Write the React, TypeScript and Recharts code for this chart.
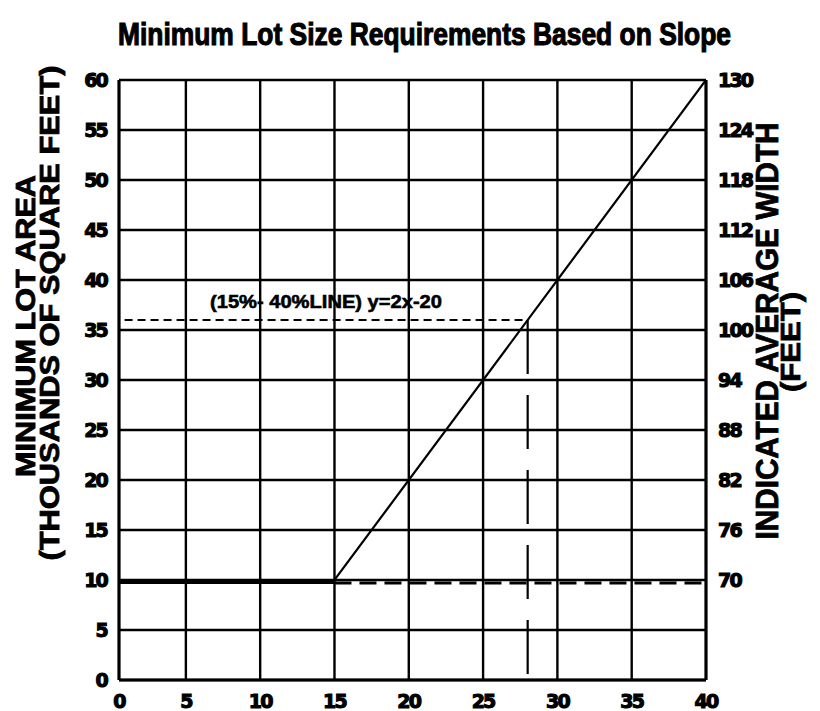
import React from 'react';
import { ComposedChart, Line, XAxis, YAxis, CartesianGrid } from 'recharts';

// slope (%) on x, lot area (thousands of sq ft) on left y, lot width (ft) on right y
const xTicks = [0.5, 5, 10, 15, 20, 25, 30, 35, 40];
const areaTicks = [0, 5, 10, 15, 20, 25, 30, 35, 40, 45, 50, 55, 60];
const widthTicks = [70, 76, 82, 88, 94, 100, 106, 112, 118, 124, 130];

const slopeLine = [
  { x: 0, y: 10 },
  { x: 15, y: 10 },
  { x: 40, y: 60 },
];
// same line read on the width scale
const widthLine = [
  { x: 0, y: 70 },
  { x: 15, y: 70 },
  { x: 40, y: 130 },
];
const minAreaSolid = [
  { x: 0, y: 9.75 },
  { x: 15, y: 9.75 },
];
const minAreaDashed = [
  { x: 15, y: 9.7 },
  { x: 40, y: 9.7 },
];
const exampleArea = [
  { x: 0, y: 36 },
  { x: 28, y: 36 },
];
const exampleSlope = [
  { x: 28, y: 36 },
  { x: 28, y: 0 },
];

const TICK_FONT = '"DejaVu Sans", sans-serif';
const TITLE_FONT = '"Liberation Sans", Arial, sans-serif';

const tickText = {
  fontFamily: TICK_FONT,
  fontWeight: 'bold' as const,
  fontSize: 19,
  letterSpacing: -1.8,
  fill: '#000',
  stroke: '#000',
  strokeWidth: 1.1,
};

const LeftTick = (props: any) => {
  const { x, y, payload } = props;
  return (
    <text x={x} y={y + 7} textAnchor="end" {...tickText}>
      {payload.value}
    </text>
  );
};

const RightTick = (props: any) => {
  const { x, y, payload } = props;
  return (
    <text x={x} y={y + 7} textAnchor="start" {...tickText}>
      {payload.value}
    </text>
  );
};

const BottomTick = (props: any) => {
  const { x, y, payload } = props;
  return (
    <text x={x} y={y + 16} textAnchor="middle" {...tickText}>
      {Math.floor(payload.value)}
    </text>
  );
};

const lineProps = {
  yAxisId: 'left',
  dataKey: 'y',
  type: 'linear' as const,
  stroke: '#000',
  strokeWidth: 2.2,
  dot: false,
  activeDot: false,
  isAnimationActive: false,
};

const labelText = {
  fontFamily: TITLE_FONT,
  fontWeight: 'bold' as const,
  fill: '#000',
  stroke: '#000',
  lengthAdjust: 'spacingAndGlyphs',
};

export default function App() {
  return (
    <div style={{ position: 'absolute', left: 0, top: 0, width: 820, height: 711, background: '#fff' }}>
      <ComposedChart width={820} height={711} margin={{ top: 80, right: 0, bottom: 0, left: 0 }}>
        <CartesianGrid yAxisId="left" stroke="#000" strokeWidth={2.4} />
        <XAxis
          type="number"
          dataKey="x"
          domain={[0.5, 40]}
          ticks={xTicks}
          allowDataOverflow
          height={31}
          tickSize={0}
          tickMargin={12}
          tick={<BottomTick />}
          axisLine={{ stroke: '#000', strokeWidth: 3 }}
        />
        <YAxis
          yAxisId="left"
          type="number"
          domain={[0, 60]}
          ticks={areaTicks}
          width={119}
          tickSize={0}
          tickMargin={12}
          tick={<LeftTick />}
          axisLine={{ stroke: '#000', strokeWidth: 3 }}
        />
        <YAxis
          yAxisId="right"
          orientation="right"
          type="number"
          domain={[58, 130]}
          ticks={widthTicks}
          width={114}
          tickSize={0}
          tickMargin={12}
          tick={<RightTick />}
          axisLine={{ stroke: '#000', strokeWidth: 3 }}
        />
        <Line {...lineProps} yAxisId="right" data={widthLine} stroke="none" />
        <Line {...lineProps} data={minAreaSolid} strokeWidth={3} />
        <Line {...lineProps} data={minAreaDashed} strokeDasharray="17 8" strokeWidth={3} />
        <Line {...lineProps} data={exampleArea} strokeDasharray="8 5" />
        <Line {...lineProps} data={exampleSlope} strokeDasharray="54 21" />
        <Line {...lineProps} data={slopeLine} />
      </ComposedChart>
      <svg
        width={820}
        height={711}
        style={{ position: 'absolute', left: 0, top: 0, pointerEvents: 'none' }}
      >
        <text
          transform="translate(118,45) scale(1,1.15)"
          fontSize={28}
          strokeWidth={1}
          textLength={613}
          {...labelText}
        >
          Minimum Lot Size Requirements Based on Slope
        </text>
        <text x={210} y={308} fontSize={19} strokeWidth={0.6} textLength={232} {...labelText}>
          (15%- 40%LINE) y=2x-20
        </text>
        <text
          transform="translate(35,326) rotate(-90)"
          textAnchor="middle"
          fontSize={27}
          strokeWidth={0.8}
          textLength={302}
          {...labelText}
        >
          MINIMUM LOT AREA
        </text>
        <text
          transform="translate(59,313) rotate(-90)"
          textAnchor="middle"
          fontSize={27}
          strokeWidth={0.8}
          textLength={495}
          {...labelText}
        >
          (THOUSANDS OF SQUARE FEET)
        </text>
        <text
          transform="translate(778,331) rotate(-90)"
          textAnchor="middle"
          fontSize={32}
          strokeWidth={0.8}
          textLength={417}
          {...labelText}
        >
          INDICATED AVERAGE WIDTH
        </text>
        <text
          transform="translate(800,342) rotate(-90)"
          textAnchor="middle"
          fontSize={27}
          strokeWidth={0.8}
          textLength={100}
          {...labelText}
        >
          (FEET)
        </text>
      </svg>
    </div>
  );
}
